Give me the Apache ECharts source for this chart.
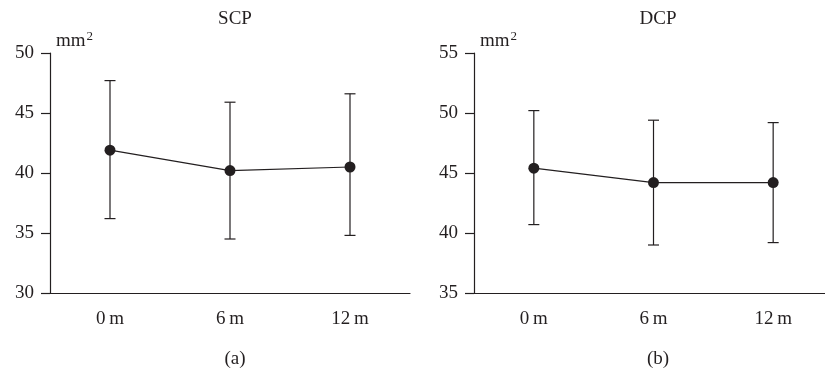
<!DOCTYPE html>
<html>
<head>
<meta charset="utf-8">
<script src="https://cdn.jsdelivr.net/npm/echarts@6/dist/echarts.min.js"></script>
<style>
  html, body { margin: 0; padding: 0; background: #fff; }
  #chart { width: 825px; height: 372px; }
</style>
</head>
<body>
<div id="chart"></div>
<script>
// months after baseline
const categories = ['0\u2009m', '6\u2009m', '12\u2009m'];

// SCP area, mean and error bar ends (mm2)
const scpMean = [41.9, 40.2, 40.5];
const scpUpper = [47.7, 45.9, 46.6];
const scpLower = [36.2, 34.5, 34.8];

// DCP area
const dcpMean = [45.4, 44.2, 44.2];
const dcpUpper = [50.2, 49.4, 49.2];
const dcpLower = [40.7, 39.0, 39.2];

const scpTicks = [30, 50, 5];
const dcpTicks = [35, 55, 5];

const ink = '#231f20';
const serif = '"Liberation Serif", "DejaVu Serif", serif';
const fs = 19;

function errItem(params, api) {
  const x = api.value(0);
  const top = api.coord([x, api.value(1)]);
  const bot = api.coord([x, api.value(2)]);
  const w = 5.5;
  const st = { stroke: ink, lineWidth: 1.2 };
  return {
    type: 'group',
    children: [
      { type: 'line', shape: { x1: top[0], y1: top[1], x2: bot[0], y2: bot[1] }, style: st },
      { type: 'line', shape: { x1: top[0] - w, y1: top[1], x2: top[0] + w, y2: top[1] }, style: st },
      { type: 'line', shape: { x1: bot[0] - w, y1: bot[1], x2: bot[0] + w, y2: bot[1] }, style: st }
    ]
  };
}

function xAx(idx) {
  return {
    type: 'category', gridIndex: idx, data: categories, boundaryGap: true,
    axisLine: { lineStyle: { color: ink, width: 1.2 } },
    axisTick: { alignWithLabel: true, length: 7, lineStyle: { color: ink, width: 1.2 } },
    axisLabel: { color: ink, fontFamily: serif, fontSize: fs, margin: 17 }
  };
}

function yAx(idx, t) {
  return {
    type: 'value', gridIndex: idx, min: t[0], max: t[1], interval: t[2],
    name: 'mm{sup|2}', nameLocation: 'end', nameGap: 0,
    nameTextStyle: {
      color: ink, fontFamily: serif, fontSize: fs, align: 'left', verticalAlign: 'bottom', padding: [0, 0, 0, 6],
      rich: { sup: { color: ink, fontFamily: serif, fontSize: 13, padding: [0, 0, 10, 1] } }
    },
    splitLine: { show: false },
    axisLine: { show: true, lineStyle: { color: ink, width: 1.2 } },
    axisTick: { show: true, length: 9, lineStyle: { color: ink, width: 1.2 } },
    axisLabel: { color: ink, fontFamily: serif, fontSize: fs, margin: 16 }
  };
}

function pair(mean, up, lo, idx) {
  return [
    {
      type: 'custom', xAxisIndex: idx, yAxisIndex: idx,
      renderItem: errItem,
      data: categories.map((c, i) => [i, up[i], lo[i]]),
      z: 2
    },
    {
      type: 'line', xAxisIndex: idx, yAxisIndex: idx,
      data: mean, symbol: 'circle', symbolSize: 11,
      lineStyle: { color: ink, width: 1.2 },
      itemStyle: { color: ink },
      z: 3
    }
  ];
}

const titleStyle = { fontFamily: serif, fontSize: fs, fontWeight: 'normal', color: ink };

const chart = echarts.init(document.getElementById('chart'));
chart.setOption({
  animation: false,
  backgroundColor: '#fff',
  title: [
    { text: 'SCP', left: 230, top: 5, textAlign: 'center', textStyle: titleStyle },
    { text: 'DCP', left: 653, top: 5, textAlign: 'center', textStyle: titleStyle },
    { text: '(a)', left: 230, top: 345, textAlign: 'center', textStyle: titleStyle },
    { text: '(b)', left: 653, top: 345, textAlign: 'center', textStyle: titleStyle }
  ],
  grid: [
    { left: 50, top: 53, width: 360, height: 240, outerBoundsMode: 'none' },
    { left: 474, top: 53, width: 359, height: 240, outerBoundsMode: 'none' }
  ],
  xAxis: [xAx(0), xAx(1)],
  yAxis: [yAx(0, scpTicks), yAx(1, dcpTicks)],
  series: [
    ...pair(scpMean, scpUpper, scpLower, 0),
    ...pair(dcpMean, dcpUpper, dcpLower, 1)
  ]
});
</script>
</body>
</html>
